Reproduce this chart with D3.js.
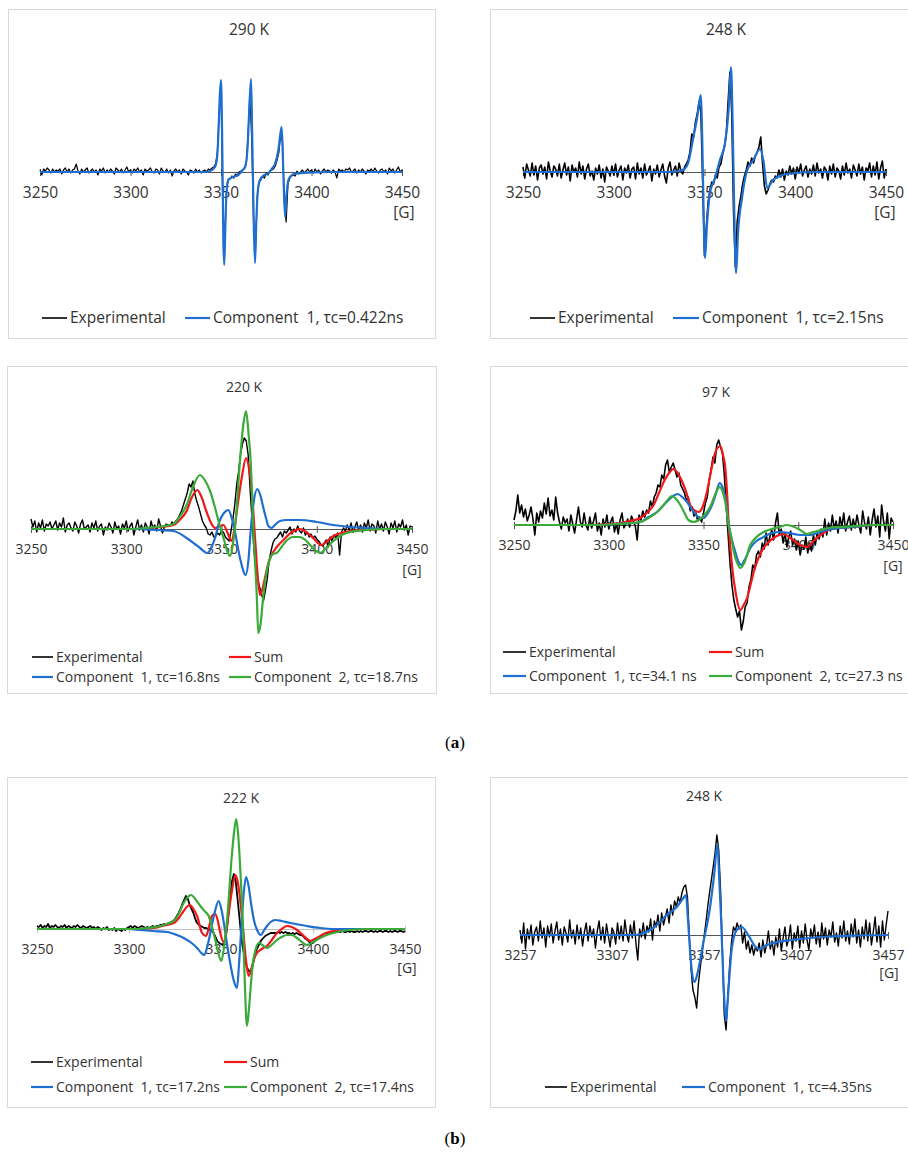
<!DOCTYPE html>
<html>
<head>
<meta charset="utf-8">
<script src="https://cdn.jsdelivr.net/npm/d3@7"></script>
<style>
    body { margin: 0; background: #fff; }
    text { font-family: 'Open Sans', sans-serif; fill: #333; }
</style>
</head>
<body>
<svg id="drawing_region" width="908" height="1163"></svg>
<script>
// field axis ticks [G]
const field_ticks = [3250, 3300, 3350, 3400, 3450];
const field_ticks_b248 = [3257, 3307, 3357, 3407, 3457];

const titles = ['290 K', '248 K', '220 K', '97 K', '222 K', '248 K'];

const labels_290  = ['Experimental', 'Component  1, τc=0.422ns'];
const labels_248a = ['Experimental', 'Component  1, τc=2.15ns'];
const labels_220  = ['Experimental', 'Sum', 'Component  1, τc=16.8ns', 'Component  2, τc=18.7ns'];
const labels_97   = ['Experimental', 'Sum', 'Component  1, τc=34.1 ns', 'Component  2, τc=27.3 ns'];
const labels_222  = ['Experimental', 'Sum', 'Component  1, τc=17.2ns', 'Component  2, τc=17.4ns'];
const labels_248b = ['Experimental', 'Component  1, τc=4.35ns'];

// experimental spectra, one value per gauss from the first field value (a.u.)
const exp_290 = [
    2,-3,3,1,4,2,-1,3,0,2, 1,3,-2,2,4,0,3,-1,2,3, 8,1,-2,3,0,2,4,-1,1,3, 0,2,-3,3,1,4,-1,2,0,3,
    1,-2,4,2,0,3,-1,2,5,0, 2,-1,3,1,4,0,2,-3,3,1, 2,4,0,-1,3,2,-2,4,1,0, 3,-1,2,-4,1,3,0,2,-2,3,
    1,0,-3,2,1,-1,3,0,2,-1, 1,2,0,3,2,4,5,8,20,60, 85,-40,-70,-20,-8,-7,-4,-6,-2,-3,
    0,1,2,4,8,40,80,30,-50,-80, -25,-10,-8,-4,-6,-1,-3,1,2,3, 6,12,20,38,30,-30,-50,-12,-6,-4,
    -3,-4,1,-2,0,2,-1,1,3,0, 2,-1,3,0,2,-2,1,3,0,2, 1,-1,2,0,-6,3,1,2,0,3, 2,4,0,1,3,-1,2,0,3,1,
    -2,2,1,3,0,4,1,-1,2,3, 0,2,-2,4,1,3,-1,2,5,0, 2
];
const exp_248a = [
    5,-6,8,2,-4,9,-3,6,-8,4, 7,-2,5,-7,10,1,-5,6,3,-4, 8,-6,2,9,-3,5,-9,7,0,4, -5,10,-2,6,-7,3,8,-4,1,-8,
    4,-2,7,-6,3,-10,5,1,-4,6, -3,8,-5,2,6,-8,4,-1,7,-6, 3,5,-7,9,-2,4,-6,8,-3,1, 6,-9,3,-2,7,-5,2,8,-4,-11,
    4,10,-3,2,6,-4,9,1,-2,5, 8,12,20,38,35,50,58,70,60,-10, -84,-55,-30,-18,-10,-12,-3,-6,5,8,
    18,25,38,70,100,60,-40,-95,-50,-35, -25,-12,-4,2,10,6,14,9,16,20, 25,35,8,-14,-22,-18,-12,-8,-10,-4,
    -6,2,-5,3,-8,1,-3,6,-2,4, -7,5,-1,8,-4,2,6,-5,3,-2, 7,-4,9,-1,3,-6,5,2,-8,6, -2,8,-5,4,1,-7,6,-3,9,-1,
    3,-6,7,2,-4,8,-2,5,-8,4, 1,9,-5,6,-3,10,-7,4,11,-6, 3
];
const exp_220 = [
    10,2,8,-3,6,1,9,-2,5,3, 7,0,4,8,-1,6,2,11,-3,4, 6,1,-2,7,3,-4,5,9,0,2, 4,-3,6,1,8,-2,3,5,-6,2,
    -1,6,2,-4,7,0,3,-5,5,1, 8,-2,3,6,-6,2,9,-1,4,-3, 6,2,-5,8,1,4,-2,10,3,-4, 2,5,4,3,7,5,8,10,14,18,
    24,30,36,45,42,48,35,28,22,15, 8,4,1,-5,-6,-3,-8,-7,-4,-6, -2,-3,-8,-10,-12,-2,10,25,45,58,
    75,85,91,88,74,40,10,-20,-40,-50, -58,-65,-72,-62,-50,-32,-22,-14,-10,-9, -6,-3,-8,-2,-4,-1,2,-5,0,-3,
    3,-2,-4,1,-6,-3,-8,-5,-9,-7, -10,-12,-15,-17,-14,-11,-18,-8,-12,-6, -9,-4,-26,-3,1,-2,4,-1,6,-3,
    2,7,-1,4,-3,6,1,9,-2,5, 3,-4,8,0,5,-2,7,2,-5,6, 1,8,-3,5,2,9,-1,4,-6,3, 2
];
const exp_97 = [
    5,14,30,12,20,8,16,4,10,18, 6,-10,12,3,14,7,22,11,27,9, 15,5,28,12,3,-4,8,2,6,-6, 10,1,-8,5,18,3,-2,12,0,-5,
    8,-3,4,12,-6,2,-10,6,-2,10, -4,3,8,-7,2,-9,5,12,-3,1, 6,-2,9,4,-1,-15,10,5,14,8, 15,12,24,18,28,32,40,38,50,46,
    60,65,52,58,62,55,48,52,40,36, 32,24,28,14,18,9,12,4,8,3, 12,22,28,45,55,68,62,80,85,78,
    72,50,20,-10,-38,-60,-75,-84,-92,-86, -105,-96,-82,-78,-62,-55,-40,-44,-30,-26, -32,-18,-24,-8,-20,-12,-5,-15,2,12,
    -10,-4,-18,-8,-22,-12,-6,-20,-14,-25, -16,-30,-20,-24,-12,-28,-18,-26,-10,-20, -8,-14,-4,-12,6,-10,2,-6,10,-4,
    4,-8,8,-2,12,-6,3,9,-5,6, -3,10,0,-8,14,2,-4,8,-10,5, 16,-2,9,-12,20,4,-6,12,-14,7, 3
];
const exp_222 = [
    3,2,4,1,3,2,5,1,3,2, 4,2,1,3,2,4,1,3,2,1, 3,2,4,2,1,3,2,1,2,3, 1,2,0,2,1,-1,1,0,2,-1,
    0,-1,1,-2,0,-1,-2,0,-1,1, 2,3,1,3,2,1,2,3,2,1, 2,1,2,3,2,3,3,4,4,5, 4,5,6,7,8,10,13,16,20,25,
    29,33,30,24,20,16,10,6,4,3, 2,1,1,0,-1,-2,-4,-8,-12,-14, -15,-16,-12,-2,14,32,48,55,48,30,
    12,-8,-20,-30,-38,-42,-42,-38,-30,-22, -18,-14,-11,-9,-7,-6,-5,-4,-4,-4, -4,-3,-4,-3,-4,-3,-4,-4,-5,-4,
    -5,-4,-5,-6,-6,-8,-10,-11,-13,-14, -14,-12,-11,-9,-8,-6,-5,-4,-4,-3, -3,-4,-3,-2,-3,-3,-2,-3,-3,-2,
    -3,-2,-3,-3,-2,-3,-2,-3,-2,-2, -3,-2,-2,-3,-2,-3,-2,-2,-3,-2, -2,-3,-2,-3,-2,-2,-3,-2,-2,-3, -2
];
const exp_248b = [
    5,-8,12,-14,6,-4,10,-10,3,8, -6,14,-3,7,-12,9,-2,11,-8,4, 13,-5,6,-10,8,2,-7,15,-3,5, -9,10,-4,7,-11,3,12,-6,9,-2,
    6,-13,4,14,-5,8,-8,11,-1,-12, 7,3,-9,12,-4,9,-6,15,1,-7, 10,-3,14,-8,-25,6,-2,12,-4,9, 3,16,-5,14,8,20,4,22,10,18,
    26,12,30,20,34,28,38,32,42,48, 50,38,0,-35,-55,-62,-73,-48,-32,-18, -2,12,28,42,55,68,82,100,85,45,
    -15,-80,-95,-60,-28,-6,8,4,12,6, 10,-8,3,-14,-6,-18,-10,-20,-12,-16, -8,-22,-5,-18,-10,4,-14,-6,-20,-2,
    -12,6,-16,-3,8,-11,-4,10,-14,2, -6,9,-13,4,-8,11,-5,-15,6,-3, 10,-9,3,-12,12,-4,7,-10,5,-2,
    13,-7,2,-11,9,-3,14,-6,4,-9, 11,-2,16,-8,5,-12,8,-4,15,-6, 12,-10,3,18,-7,9,-12,14,-5,10, 24
];

// simulated components [G, a.u.]
const fit_290_c1 = [[3250,0],[3340,0],[3344,1],[3346.7,5],[3347.8,14],[3348.5,35],[3349.3,75],[3350,92],[3350.6,40],[3351,-20],[3351.3,-70],[3351.8,-93],[3352.4,-55],[3353,-22],[3354,-8],[3356.5,-5],[3359.6,-3],[3362,2],[3363.3,5],[3364.7,25],[3365.6,62],[3366.6,93],[3367.2,40],[3367.7,-10],[3368.2,-60],[3368.8,-91],[3369.5,-50],[3370.3,-20],[3371.5,-8],[3374,-3],[3376.1,-1.5],[3378,3],[3379.8,8],[3381.7,22],[3382.8,38],[3383.5,45],[3384.1,20],[3384.6,-10],[3385.4,-45],[3386.1,-25],[3387,-10],[3388.1,-5],[3390.9,-1.5],[3400,-0.5],[3410,0],[3450,0]];

const fit_248a_c1 = [[3250,0],[3330,0],[3336,1],[3339,3],[3341,9],[3343.8,34],[3346,55],[3347.9,77],[3348.8,30],[3349.5,-40],[3350.3,-86],[3351.3,-55],[3353,-21],[3355.8,-6],[3358.5,12],[3361.3,29],[3363.2,60],[3364.6,105],[3365.5,50],[3366.3,-30],[3367.4,-101],[3368.5,-60],[3370.5,-28],[3373.2,0],[3376.9,12],[3380.6,23],[3382.4,12],[3384.6,-16],[3387.7,-8],[3393,-3],[3400,-1],[3410,0],[3450,0]];

const fit_220_sum = [[3250,0],[3305,0],[3312.5,1],[3318,2],[3324.7,4],[3328,9],[3331.7,18],[3334.5,32],[3337.3,39],[3339.5,32],[3342,18],[3344.5,6],[3346.6,1],[3349,3],[3351,4],[3353.2,-4],[3355.3,-12],[3356.8,0],[3358.2,20],[3360.6,51],[3362.9,71],[3364.5,60],[3365.8,41],[3367.3,0],[3368.8,-42],[3370.2,-66],[3371.5,-60],[3372.8,-49],[3374.5,-35],[3376.3,-26],[3379,-18],[3382.5,-11],[3387,-3],[3391,0],[3394.5,-3],[3398,-9],[3402.6,-16],[3405.5,-12],[3408.7,-7],[3413,-4],[3417.5,-2],[3425,-1],[3435,0],[3450,0]];
const fit_220_c1 = [[3250,0],[3307,0],[3316,-1],[3324.7,-2],[3331.7,-9],[3336,-15],[3338.7,-19],[3342.6,-24],[3344.8,-18],[3346.6,-9],[3349,8],[3351.3,16],[3353.6,19],[3355.5,10],[3357,-2],[3359.7,-29],[3362.7,-46],[3364.2,-30],[3365.3,-2],[3366.7,24],[3368.8,40],[3370.5,33],[3372,21],[3373.5,10],[3374.6,3],[3376.3,1],[3378,4],[3380.7,8],[3384.2,9],[3391,9],[3400,7],[3408.7,4],[3417.5,2],[3426,1],[3435,0],[3450,0]];
const fit_220_c2 = [[3250,0],[3300,0],[3307,0.5],[3316,2],[3320,3],[3324.7,5],[3328,12],[3331.7,24],[3335,42],[3338.7,54],[3341.5,48],[3344,38],[3346.5,22],[3349,4],[3351.5,-12],[3353,-22],[3354.5,-27],[3356,-15],[3357.5,10],[3359.7,68],[3361.5,105],[3362.9,118],[3364.2,95],[3365.3,68],[3366.7,0],[3368.5,-66],[3369.3,-104],[3370.5,-95],[3372,-66],[3374,-40],[3375.5,-29],[3377,-25],[3379,-24],[3381.5,-18],[3384,-12],[3387.5,-8],[3391,-8],[3394,-11],[3396.5,-16],[3399,-21],[3401.7,-24],[3404.5,-20],[3408.7,-12],[3413,-6],[3417.5,-3],[3426,-1],[3435,0],[3450,0]];

const fit_97_sum = [[3250,0],[3290,0],[3300,1],[3306,2],[3311,4],[3316.7,7],[3320,12],[3323.7,20],[3326.5,32],[3329,43],[3331.8,52],[3334.3,56],[3337,50],[3339.5,40],[3341.5,29],[3343,20],[3345,15],[3347.5,13],[3349.5,18],[3351.8,33],[3353.8,52],[3355.4,67],[3357,76],[3358.9,79],[3360.3,70],[3361.5,57],[3362.5,30],[3363.3,0],[3365,-40],[3367,-68],[3369.4,-85],[3371.2,-80],[3373,-73],[3374.8,-60],[3376.5,-47],[3379,-33],[3381.7,-23],[3384.5,-17],[3387,-13],[3390,-10],[3392.3,-9],[3395.8,-13],[3400,-19],[3404.6,-22],[3408,-16],[3411.7,-10],[3416,-5],[3420.4,-3],[3429,-2],[3440,0],[3450,0]];
const fit_97_c1 = [[3250,0],[3295,0],[3305,1],[3316.7,3],[3321,8],[3325.5,13],[3328.5,19],[3331.6,25],[3334,29],[3336.4,31],[3338.8,28],[3341.3,23],[3344.5,14],[3348.3,7],[3350,7],[3352,11],[3354.5,20],[3356.5,31],[3358.5,42],[3360,38],[3361.5,27],[3363.3,0],[3365,-15],[3366.8,-27],[3368.3,-36],[3369.8,-40],[3372,-34],[3374.7,-23],[3378,-16],[3381.7,-12],[3386,-8],[3390.5,-7],[3395,-8],[3401,-10],[3406.4,-10],[3410,-8],[3415,-5],[3422,-3],[3429,-2],[3440,0],[3450,0]];
const fit_97_c2 = [[3250,0],[3295,0],[3305,1],[3316.7,3],[3321,7],[3325.5,13],[3329,20],[3331.5,26],[3333.4,29],[3335.5,26],[3337.8,20],[3340,12],[3342,5],[3344.8,3],[3347.5,5],[3350,9],[3351.8,13],[3354,20],[3355.4,27],[3357,34],[3358.4,38],[3360,34],[3361.5,23],[3363.3,0],[3364.8,-14],[3366,-27],[3367.8,-38],[3369.4,-43],[3371.5,-38],[3374.7,-20],[3378,-12],[3381.7,-7],[3386,-4],[3390,-2],[3394,0],[3398,-2],[3401,-5],[3404.6,-9],[3408,-7],[3411.7,-5],[3416,-3],[3422,-2],[3430,-1],[3440,0],[3450,0]];

const fit_222_sum = [[3250,0],[3305,0],[3313.4,1],[3318,3],[3324.3,6],[3327.5,12],[3329.7,18],[3333,24],[3335,20],[3337,13],[3339.7,-4],[3341.8,-7],[3343.5,2],[3345,13],[3346.9,15],[3348.3,8],[3349.6,-4],[3351.8,-14],[3353,-2],[3354.2,16],[3356,39],[3357.8,54],[3359,48],[3360,36],[3362,0],[3363.5,-30],[3365,-47],[3366.5,-40],[3367.8,-31],[3369.5,-24],[3371.4,-21],[3373,-19],[3375,-17],[3378,-10],[3380.4,-4],[3383,0],[3385.9,3],[3388.5,2],[3391.3,-1],[3395,-7],[3398.6,-12],[3401,-10],[3404,-7],[3407,-4],[3411,-2],[3420,0],[3450,0]];
const fit_222_c1 = [[3250,0],[3300,0],[3306,-1],[3313,-2],[3320.7,-3],[3326,-6],[3329.7,-9],[3334,-14],[3337,-19],[3339.3,-24],[3341,-26],[3342.5,-18],[3344.2,-4],[3346.5,16],[3348.7,28],[3350.3,19],[3351.8,3],[3353.5,-18],[3355,-34],[3357,-52],[3358.7,-59],[3359.8,-35],[3361,0],[3362.3,35],[3363.6,52],[3365,43],[3366.3,26],[3368,8],[3369.6,-1],[3371.7,-6],[3373.5,-1],[3375,3],[3377,7],[3379.5,9],[3383,8],[3387.7,6],[3392,4.5],[3396.7,3],[3404,1],[3410,0],[3450,0]];
const fit_222_c2 = [[3250,0],[3302.5,0],[3310,1],[3317,3],[3320.5,5],[3324.3,8],[3327,15],[3329.7,26],[3331.5,31],[3333.7,34],[3336,30],[3338.8,23],[3341,18],[3343.3,13],[3345,3],[3346.9,-11],[3348.5,-24],[3350.2,-32],[3351.5,-20],[3353.3,9],[3356,76],[3357.3,100],[3358.3,110],[3359.3,95],[3360.5,59],[3362,0],[3363,-57],[3364.1,-97],[3365.2,-80],[3366.3,-54],[3367.5,-32],[3368.7,-21],[3370.5,-14],[3372.5,-16],[3375,-19],[3377.5,-16],[3380.4,-11],[3383,-8],[3385.9,-6],[3388.5,-6],[3391.3,-9],[3394,-13],[3396.7,-16],[3400,-13],[3404,-9],[3407.5,-6],[3411,-4],[3416,-2],[3420,-1],[3430,0],[3450,0]];

const fit_248b_c1 = [[3257,0],[3318,0],[3323,1],[3327.7,5],[3332,11],[3336.7,20],[3342.2,28],[3345.8,37],[3347.2,40],[3348.2,18],[3349.2,-10],[3350.5,-38],[3351.9,-47],[3353.5,-38],[3356.6,-8],[3360.3,28],[3362.5,60],[3364.3,91],[3365.2,60],[3366.2,20],[3367.2,-30],[3368.2,-70],[3369,-86],[3369.9,-65],[3370.8,-42],[3372,-15],[3374.8,5],[3377.5,8],[3381,0],[3385.6,-13],[3387.4,-14],[3390,-11],[3394.5,-8],[3405,-5],[3415,-3],[3425,-1.5],[3440,-0.5],[3457,0]];

const C_EXP = '#000000', C_SUM = '#f01818', C_C1 = '#1f6fd1', C_C2 = '#3aab38';

const panels = [
    { title: titles[0], labels: labels_290, domain: [3250, 3450], ticks: field_ticks,
      box: [8, 9, 427, 329], x0: 40, x1: 402, axisY: 172, titleXY: [249, 30], fs: 15.5,
      axisColor: '#555', gXY: [404, 213], expWidth: 1.2,
      series: [ [exp_290, C_EXP], [fit_290_c1, C_C1] ],
      legend: [ { y: 318, items: [[42, 67, 0], [185, 210, 1]] } ] },
    { title: titles[1], labels: labels_248a, domain: [3250, 3450], ticks: field_ticks,
      box: [490, 9, 430, 329], x0: 523, x1: 886, axisY: 172, titleXY: [726, 30], fs: 15.5,
      axisColor: '#555', gXY: [885, 213], expWidth: 1.6,
      series: [ [exp_248a, C_EXP], [fit_248a_c1, C_C1] ],
      legend: [ { y: 318, items: [[530, 555, 0], [673, 699, 1]] } ] },
    { title: titles[2], labels: labels_220, domain: [3250, 3450], ticks: field_ticks,
      box: [7, 366, 429, 327], x0: 31, x1: 412, axisY: 529, titleXY: [244, 387], fs: 14,
      axisColor: '#555', gXY: [412, 570], expWidth: 1.4,
      series: [ [exp_220, C_EXP], [fit_220_sum, C_SUM], [fit_220_c1, C_C1], [fit_220_c2, C_C2] ],
      legend: [ { y: 657, items: [[32, 53, 0], [229, 251, 1]] },
                { y: 677, items: [[32, 53, 2], [229, 251, 3]] } ] },
    { title: titles[3], labels: labels_97, domain: [3250, 3450], ticks: field_ticks,
      box: [490, 366, 430, 327], x0: 514, x1: 893, axisY: 525, titleXY: [716, 392], fs: 14,
      axisColor: '#555', gXY: [893, 566], expWidth: 1.6,
      series: [ [exp_97, C_EXP], [fit_97_sum, C_SUM], [fit_97_c1, C_C1], [fit_97_c2, C_C2] ],
      legend: [ { y: 652, items: [[503, 526, 0], [709, 732, 1]] },
                { y: 676, items: [[503, 526, 2], [709, 732, 3]] } ] },
    { title: titles[4], labels: labels_222, domain: [3250, 3450], ticks: field_ticks,
      box: [7, 777, 428, 330], x0: 37, x1: 405, axisY: 929, titleXY: [241, 798], fs: 14,
      axisColor: '#bfbfbf', gXY: [407, 968], expWidth: 1.8,
      series: [ [exp_222, C_EXP], [fit_222_sum, C_SUM], [fit_222_c1, C_C1], [fit_222_c2, C_C2] ],
      legend: [ { y: 1062, items: [[31, 53, 0], [224, 247, 1]] },
                { y: 1087, items: [[31, 53, 2], [224, 247, 3]] } ] },
    { title: titles[5], labels: labels_248b, domain: [3257, 3457], ticks: field_ticks_b248,
      box: [490, 777, 430, 330], x0: 520, x1: 888, axisY: 935, titleXY: [704, 796], fs: 14,
      axisColor: '#555', gXY: [889, 973], expWidth: 1.4,
      series: [ [exp_248b, C_EXP], [fit_248b_c1, C_C1] ],
      legend: [ { y: 1087, items: [[545, 567, 0], [682, 705, 1]] } ] }
];

class EprPanel {

    constructor( config ) {
        this.config = config;
        this.init();
    }

    init() {
        let self = this;
        const c = self.config;

        self.svg = d3.select('#drawing_region');
        self.chart = self.svg.append('g');

        self.chart.append('rect')
            .attr('x', c.box[0] + 0.5).attr('y', c.box[1] + 0.5)
            .attr('width', c.box[2]).attr('height', c.box[3])
            .attr('fill', '#fff').attr('stroke', '#d9d9d9');

        self.x_scale = d3.scaleLinear()
            .domain( c.domain )
            .range( [c.x0, c.x1] );

        // 1 a.u. per pixel around the zero line
        self.y_scale = d3.scaleLinear()
            .domain( [-150, 150] )
            .range( [c.axisY + 150, c.axisY - 150] );

        self.xaxis = d3.axisBottom( self.x_scale )
            .tickValues( c.ticks )
            .tickFormat( d3.format('d') )
            .tickSizeInner(4).tickSizeOuter(0)
            .tickPadding( 20 - 0.35 * c.fs - 4 );
    }

    render() {
        let self = this;
        const c = self.config;

        const axis_g = self.chart.append('g')
            .attr('transform', `translate(0, ${c.axisY})`)
            .call( self.xaxis );
        axis_g.select('.domain').attr('stroke', c.axisColor).attr('stroke-width', 1.2);
        axis_g.selectAll('.tick line').attr('stroke', c.axisColor).attr('y1', -3);
        axis_g.selectAll('.tick text')
            .attr('font-family', "'Open Sans', sans-serif")
            .attr('font-size', c.fs)
            .attr('fill', '#333');

        self.chart.append('text')
            .attr('x', c.gXY[0]).attr('y', c.gXY[1])
            .attr('dy', '0.35em').attr('text-anchor', 'middle')
            .attr('font-size', c.fs)
            .text('[G]');

        self.chart.append('text')
            .attr('x', c.titleXY[0]).attr('y', c.titleXY[1])
            .attr('dy', '0.35em').attr('text-anchor', 'middle')
            .attr('font-size', c.fs)
            .text( c.title );

        const line_exp = d3.line()
            .x( d => self.x_scale( d[0] ) )
            .y( d => self.y_scale( d[1] ) );
        const line_fit = d3.line()
            .curve( d3.curveMonotoneX )
            .x( d => self.x_scale( d[0] ) )
            .y( d => self.y_scale( d[1] ) );

        c.series.forEach( (s, i) => {
            const is_exp = i == 0;
            const pts = is_exp ? s[0].map( (v, k) => [c.domain[0] + k, v] ) : s[0];
            self.chart.append('path')
                .datum( pts )
                .attr('fill', 'none')
                .attr('stroke', s[1])
                .attr('stroke-width', is_exp ? c.expWidth : 2.2)
                .attr('stroke-linejoin', 'round')
                .attr('d', is_exp ? line_exp : line_fit);
        });

        c.legend.forEach( row => {
            row.items.forEach( it => {
                const s = c.series[ it[2] ];
                self.chart.append('line')
                    .attr('x1', it[0]).attr('x2', it[1])
                    .attr('y1', row.y).attr('y2', row.y)
                    .attr('stroke', s[1])
                    .attr('stroke-width', it[2] == 0 ? 1.6 : 2.2);
                self.chart.append('text')
                    .attr('x', it[1] + 3).attr('y', row.y)
                    .attr('dy', '0.35em')
                    .attr('font-size', c.fs)
                    .style('white-space', 'pre')
                    .text( c.labels[ it[2] ] );
            });
        });
    }
}

panels.forEach( p => {
    const panel = new EprPanel( p );
    panel.render();
});

// sub-figure captions
const captions = [ ['a', 742], ['b', 1138] ];
captions.forEach( cap => {
    const t = d3.select('#drawing_region').append('text')
        .attr('x', 455).attr('y', cap[1])
        .attr('dy', '0.35em').attr('text-anchor', 'middle')
        .style('font-family', "'Liberation Serif', serif")
        .style('font-size', '17px').style('fill', '#000');
    t.append('tspan').text('(');
    t.append('tspan').style('font-weight', 'bold').text( cap[0] );
    t.append('tspan').text(')');
});
</script>
</body>
</html>
